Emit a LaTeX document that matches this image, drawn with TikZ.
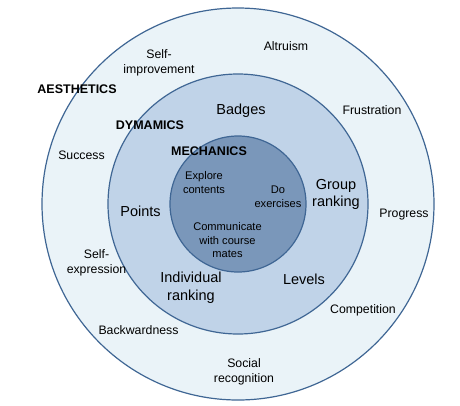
\documentclass[tikz,border=0pt]{standalone}
\usepackage{fontspec}
\setmainfont{Liberation Sans}

\definecolor{Ring}{HTML}{3F6694}
\definecolor{Aesth}{HTML}{EAF3F8}
\definecolor{Dyna}{HTML}{C0D3E8}
\definecolor{Mecha}{HTML}{7A97BA}

\tikzset{
  outerlbl/.style={align=center, font=\fontsize{12.3}{15}\selectfont, inner sep=0pt},
  midlbl/.style={align=center, font=\fontsize{14.5}{17.5}\selectfont, inner sep=0pt},
  innerlbl/.style={align=center, font=\fontsize{11.1}{13.5}\selectfont, inner sep=0pt},
  titlelbl/.style={font=\fontsize{12.5}{15}\selectfont\bfseries, inner sep=0pt},
}

\begin{document}
\begin{tikzpicture}[x=1pt, y=-1pt]

 \useasboundingbox (0,0) rectangle (460,405);

 %%%%%%%%%% Centre %%%%%%%%%%
 \coordinate (c) at (238,204);

 %%%%%%%%%% Circles %%%%%%%%%%
 \filldraw [fill=Aesth, draw=Ring, line width=1.2] (c) circle (196);
 \filldraw [fill=Dyna, draw=Ring, line width=1.2] (c) circle (130);
 \filldraw [fill=Mecha, draw=Ring, line width=1.2] (c) circle (68);

 %%%%%%%%%% Titles %%%%%%%%%%
 \node [titlelbl] (aesthetics) at (77,89) {AESTHETICS};
 \node [titlelbl] (dynamics) at (150,125.5) {DYMAMICS};
 \node [titlelbl] (mechanics) at (209,151) {MECHANICS};

 %%%%%%%%%% Aesthetics %%%%%%%%%%
 \node [outerlbl] (selfimp) at (159,63) {Self-\\improvement};
 \node [outerlbl] (altruism) at (286,46.5) {Altruism};
 \node [outerlbl] (frustration) at (372,110.5) {Frustration};
 \node [outerlbl] (success) at (81.5,155.5) {Success};
 \node [outerlbl] (progress) at (404,214.5) {Progress};
 \node [outerlbl] (selfexp) at (96.5,263) {Self-\\expression};
 \node [outerlbl] (competition) at (363,310) {Competition};
 \node [outerlbl] (backward) at (138.5,330.5) {Backwardness};
 \node [outerlbl] (social) at (244,372) {Social\\recognition};

 %%%%%%%%%% Dynamics %%%%%%%%%%
 \node [midlbl] (badges) at (241,111) {Badges};
 \node [midlbl] (group) at (336,194.5) {Group\\ranking};
 \node [midlbl] (points) at (140.5,211) {Points};
 \node [midlbl] (individual) at (191,287.5) {Individual\\ranking};
 \node [midlbl] (levels) at (304,279) {Levels};

 %%%%%%%%%% Mechanics %%%%%%%%%%
 \node [innerlbl] (explore) at (204,182.5) {Explore\\contents};
 \node [innerlbl] (exercises) at (278,196.5) {Do\\exercises};
 \node [innerlbl] (communicate) at (227.5,240.5) {Communicate\\with course\\mates};

\end{tikzpicture}
\end{document}
